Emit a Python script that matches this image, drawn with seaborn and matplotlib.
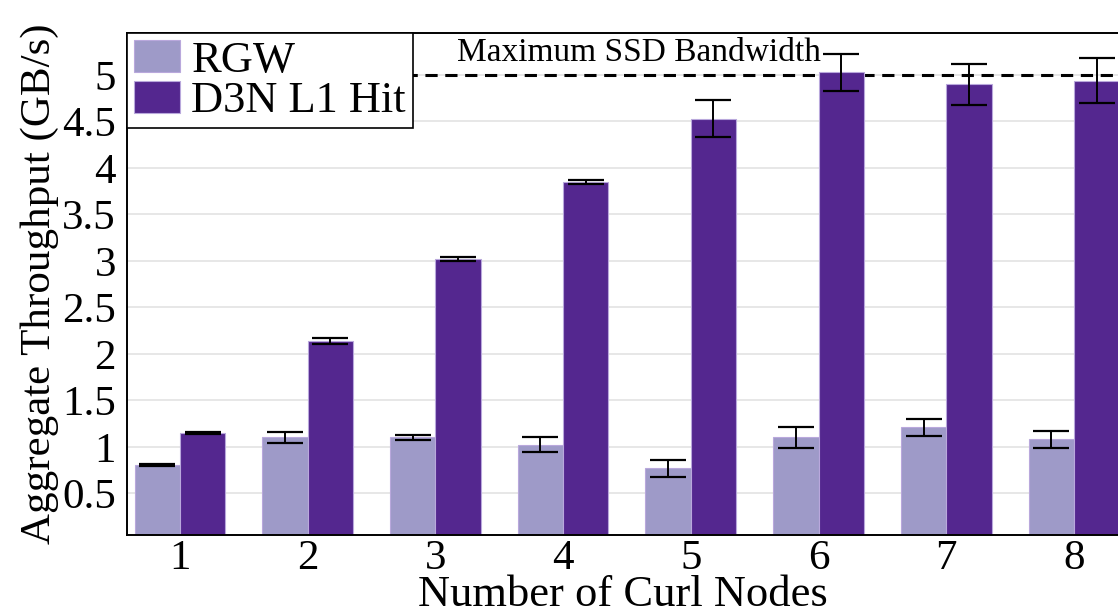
import matplotlib
matplotlib.use("Agg")
import matplotlib.pyplot as plt
import numpy as np
import pandas as pd
import seaborn as sns

nodes = ["1", "2", "3", "4", "5", "6", "7", "8"]
rgw = [0.80, 1.10, 1.10, 1.02, 0.77, 1.10, 1.21, 1.08]
rgw_err = [0.01, 0.06, 0.03, 0.08, 0.09, 0.11, 0.09, 0.09]
d3n = [1.15, 2.14, 3.02, 3.85, 4.53, 5.03, 4.90, 4.94]
d3n_err = [0.01, 0.03, 0.02, 0.02, 0.20, 0.20, 0.22, 0.24]
series = ["RGW", "D3N L1 Hit"]
colors = ["#9e9ac8", "#54278f"]
ssd_max = 5.0

df = pd.DataFrame({
    "nodes": nodes * 2,
    "value": rgw + d3n,
    "series": [series[0]] * len(nodes) + [series[1]] * len(nodes),
})

sns.set_style("white")
plt.rcParams["font.family"] = ["Liberation Serif", "DejaVu Serif"]
for k in ["text.color", "axes.labelcolor", "xtick.color", "ytick.color"]:
    plt.rcParams[k] = "black"

fig = plt.figure(figsize=(11.18, 6.15), dpi=100)
ax = fig.add_axes([0.1136, 0.130, 0.8864, 0.816])

sns.barplot(data=df, x="nodes", y="value", hue="series", palette=colors,
            width=0.71, ax=ax, edgecolor="#b9a8dc", linewidth=0.8,
            saturation=1, zorder=2, errorbar=None)

# error bars on top of each bar
for cont, vals, errs in zip(ax.containers, [rgw, d3n], [rgw_err, d3n_err]):
    xs = [p.get_x() + p.get_width() / 2 for p in cont.patches]
    ax.errorbar(xs, vals, yerr=errs, fmt="none", ecolor="black",
                elinewidth=1.4, capsize=13, capthick=1.6, zorder=3)

ax.axhline(ssd_max, color="black", linestyle=(0, (4, 2.5)), linewidth=2.2, zorder=1)
ax.text(2.17, 5.08, "Maximum SSD Bandwidth", fontsize=24, ha="left", va="bottom")

ax.set_ylim(0.05, 5.45)
ax.set_xlim(-0.415, 7.345)
ax.set_yticks([0.5, 1, 1.5, 2, 2.5, 3, 3.5, 4, 4.5, 5])
ax.set_yticklabels(["0.5", "1", "1.5", "2", "2.5", "3", "3.5", "4", "4.5", "5"])
ax.yaxis.grid(True, color="#e3e3e3", linewidth=1.2, zorder=0)
ax.set_axisbelow(True)
ax.tick_params(axis="both", labelsize=31, length=0)
ax.tick_params(axis="y", pad=8)
ax.tick_params(axis="x", pad=3)

for s in ["left", "bottom", "top"]:
    ax.spines[s].set_color("black")
    ax.spines[s].set_linewidth(1.4)
ax.spines["right"].set_visible(False)

ax.set_xlabel("Number of Curl Nodes", fontsize=32, labelpad=-2)
ax.set_ylabel("Aggregate Throughput (GB/s)", fontsize=31, labelpad=2)

leg = ax.legend(loc="upper left", fontsize=32, frameon=True, fancybox=False,
                edgecolor="black", framealpha=1, borderaxespad=0.0,
                handlelength=1.05, handleheight=0.75, handletextpad=0.25,
                labelspacing=0.0, borderpad=0.15, title=None)
leg.get_frame().set_linewidth(1.2)
leg.set_zorder(5)

fig.savefig("out.png", dpi=100)
plt.close(fig)
